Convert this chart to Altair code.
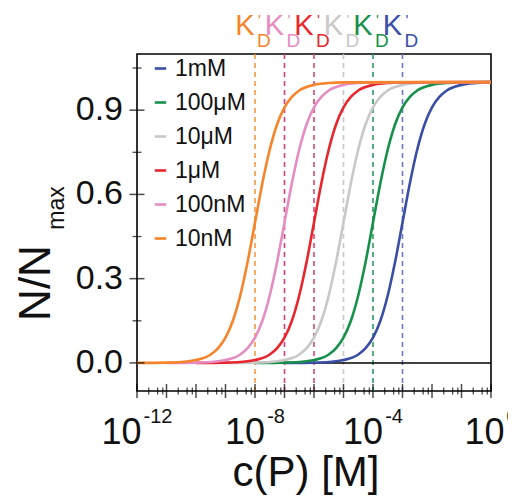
import altair as alt
import pandas as pd

FONT = "Liberation Sans"

# ---- data -------------------------------------------------------------
series = ["1mM", "100μM", "10μM", "1μM", "100nM", "10nM"]
kd_exp = [-3, -4, -5, -6, -7, -8]  # K_D' positions (log10 M)

curve_colors = ["#3a4ea6", "#17904b", "#c8c8c8", "#e8262d", "#e58dc2", "#f5842b"]
dash_colors = ["#6a78c4", "#2e9a5e", "#c8c8d0", "#d6476c", "#c8407e", "#f29a48"]

logc_1mM = [-7, -6, -5.5, -5, -4.5, -4.25, -4, -3.75, -3.5, -3.25, -3, -2.75, -2.5, -2.25, -2, -1.75, -1.5, -1, -0.5, 0]
n_1mM = [0.0, 0.001, 0.003, 0.01, 0.03, 0.053, 0.09, 0.15, 0.24, 0.36, 0.5, 0.64, 0.76, 0.85, 0.91, 0.947, 0.97, 0.99, 0.997, 1.0]

logc_100uM = [-8, -7, -6.5, -6, -5.5, -5.25, -5, -4.75, -4.5, -4.25, -4, -3.75, -3.5, -3.25, -3, -2.75, -2.5, -2, -1.5, -1, 0]
n_100uM = [0.0, 0.001, 0.003, 0.01, 0.03, 0.053, 0.09, 0.15, 0.24, 0.36, 0.5, 0.64, 0.76, 0.85, 0.91, 0.947, 0.97, 0.99, 0.997, 0.999, 1.0]

logc_10uM = [-9, -8, -7.5, -7, -6.5, -6.25, -6, -5.75, -5.5, -5.25, -5, -4.75, -4.5, -4.25, -4, -3.75, -3.5, -3, -2.5, -2, 0]
n_10uM = [0.0, 0.001, 0.003, 0.01, 0.03, 0.053, 0.09, 0.15, 0.24, 0.36, 0.5, 0.64, 0.76, 0.85, 0.91, 0.947, 0.97, 0.99, 0.997, 0.999, 1.0]

logc_1uM = [-10, -9, -8.5, -8, -7.5, -7.25, -7, -6.75, -6.5, -6.25, -6, -5.75, -5.5, -5.25, -5, -4.75, -4.5, -4, -3.5, -3, 0]
n_1uM = [0.0, 0.001, 0.003, 0.01, 0.03, 0.053, 0.09, 0.15, 0.24, 0.36, 0.5, 0.64, 0.76, 0.85, 0.91, 0.947, 0.97, 0.99, 0.997, 0.999, 1.0]

logc_100nM = [-11, -10, -9.5, -9, -8.5, -8.25, -8, -7.75, -7.5, -7.25, -7, -6.75, -6.5, -6.25, -6, -5.75, -5.5, -5, -4.5, -4, 0]
n_100nM = [0.0, 0.001, 0.003, 0.01, 0.03, 0.053, 0.09, 0.15, 0.24, 0.36, 0.5, 0.64, 0.76, 0.85, 0.91, 0.947, 0.97, 0.99, 0.997, 0.999, 1.0]

logc_10nM = [-12, -11, -10.5, -10, -9.5, -9.25, -9, -8.75, -8.5, -8.25, -8, -7.75, -7.5, -7.25, -7, -6.75, -6.5, -6, -5.5, -5, 0]
n_10nM = [0.0, 0.001, 0.003, 0.01, 0.03, 0.053, 0.09, 0.15, 0.24, 0.36, 0.5, 0.64, 0.76, 0.85, 0.91, 0.947, 0.97, 0.99, 0.997, 0.999, 1.0]

curves = [
    ("1mM", logc_1mM, n_1mM),
    ("100μM", logc_100uM, n_100uM),
    ("10μM", logc_10uM, n_10uM),
    ("1μM", logc_1uM, n_1uM),
    ("100nM", logc_100nM, n_100nM),
    ("10nM", logc_10nM, n_10nM),
]

x_major = [1e-12, 1e-11, 1e-10, 1e-9, 1e-8, 1e-7, 1e-6, 1e-5, 1e-4, 1e-3, 1e-2, 1e-1, 1e0]
x_minor = [m * 10.0 ** k for k in range(-12, 0) for m in (2.5, 5, 7.5)]
x_label_vals = [1e-12, 1e-8, 1e-4, 1e0]
x_label_exps = ["-12", "-8", "-4", "0"]

y_major = [0.0, 0.3, 0.6, 0.9]
y_minor = [0.15, 0.45, 0.75, 1.05]
y_labels = ["0.0", "0.3", "0.6", "0.9"]

# ---- frames -----------------------------------------------------------
rows = []
for name, lc, nv in curves:
    for a, b in zip(lc, nv):
        rows.append({"series": name, "c": 10.0 ** a, "n": b})
curve_df = pd.DataFrame(rows)
kd_df = pd.DataFrame({"series": series, "kd": [10.0 ** e for e in kd_exp]})

W, H = 354, 337
xs = alt.Scale(type="log", domain=[1e-12, 1], nice=False)
ys = alt.Scale(domain=[-0.1, 1.1], nice=False, zero=False)
cscale = alt.Scale(domain=series, range=curve_colors)
dscale = alt.Scale(domain=series, range=dash_colors)

layers = []

# dashed K_D' lines
layers.append(
    alt.Chart(kd_df).mark_rule(strokeDash=[5, 4], strokeWidth=1.6).encode(
        x=alt.X("kd:Q", scale=xs, axis=None),
        color=alt.Color("series:N", scale=dscale, legend=None),
    )
)

# zero line
layers.append(
    alt.Chart(pd.DataFrame({"z": [0.0]})).mark_rule(color="black", strokeWidth=1.5).encode(
        y=alt.Y("z:Q", scale=ys, axis=None)
    )
)

# curves
layers.append(
    alt.Chart(curve_df).mark_line(strokeWidth=2.6, interpolate="monotone").encode(
        x=alt.X("c:Q", scale=xs, axis=None),
        y=alt.Y("n:Q", scale=ys, axis=None),
        color=alt.Color(
            "series:N",
            scale=cscale,
            sort=series,
            legend=alt.Legend(
                orient="none", legendX=12, legendY=3, title=None,
                symbolType="stroke", symbolSize=130, symbolStrokeWidth=2.6,
                labelFont=FONT, labelFontSize=23, labelColor="#111",
                rowPadding=10, labelOffset=3, padding=0,
            ),
        ),
        detail="series:N",
    )
)

# x ticks (crossing)
layers.append(
    alt.Chart(pd.DataFrame({"t": x_major})).mark_tick(orient="vertical", color="black", size=14, thickness=1.5).encode(
        x=alt.X("t:Q", scale=xs, axis=None), y=alt.value(H)
    )
)
layers.append(
    alt.Chart(pd.DataFrame({"t": x_minor})).mark_tick(orient="vertical", color="black", size=7, thickness=1.3).encode(
        x=alt.X("t:Q", scale=xs, axis=None), y=alt.value(H)
    )
)
# y ticks (crossing)
layers.append(
    alt.Chart(pd.DataFrame({"t": y_major})).mark_tick(orient="horizontal", color="black", size=15, thickness=1.5).encode(
        y=alt.Y("t:Q", scale=ys, axis=None), x=alt.value(0)
    )
)
layers.append(
    alt.Chart(pd.DataFrame({"t": y_minor})).mark_tick(orient="horizontal", color="black", size=9, thickness=1.3).encode(
        y=alt.Y("t:Q", scale=ys, axis=None), x=alt.value(0)
    )
)

# y tick labels
layers.append(
    alt.Chart(pd.DataFrame({"t": y_major, "lab": y_labels})).mark_text(
        font=FONT, fontSize=34, align="right", baseline="middle", color="#111", dx=-14
    ).encode(y=alt.Y("t:Q", scale=ys, axis=None), x=alt.value(0), text="lab:N")
)

# x tick labels: "10" + superscript exponent, group centred on tick
def tw(s, fs):
    w = {"-": 0.333}
    return sum(w.get(ch, 0.556) for ch in s) * fs

MAIN_FS, SUP_FS, GAP = 36, 20, 2
for val, ex in zip(x_label_vals, x_label_exps):
    wm = tw("10", MAIN_FS)
    ws = tw(ex, SUP_FS)
    tot = wm + GAP + ws
    d = pd.DataFrame({"x": [val], "m": ["10"], "e": [ex]})
    layers.append(
        alt.Chart(d).mark_text(font=FONT, fontSize=MAIN_FS, align="right", baseline="alphabetic",
                               color="#111", dx=tot / 2 - ws - GAP).encode(
            x=alt.X("x:Q", scale=xs, axis=None), y=alt.value(H + 53), text="m:N")
    )
    layers.append(
        alt.Chart(d).mark_text(font=FONT, fontSize=SUP_FS, align="left", baseline="alphabetic",
                               color="#111", dx=tot / 2 - ws).encode(
            x=alt.X("x:Q", scale=xs, axis=None), y=alt.value(H + 32), text="e:N")
    )

# K_D' labels on top
kd_lab = kd_df.assign(k="K", d="D", p="'")
layers.append(
    alt.Chart(kd_lab).mark_text(font=FONT, fontSize=29, align="center", baseline="alphabetic", dx=-10).encode(
        x=alt.X("kd:Q", scale=xs, axis=None), y=alt.value(-19), text="k:N",
        color=alt.Color("series:N", scale=cscale, legend=None))
)
layers.append(
    alt.Chart(kd_lab).mark_text(font=FONT, fontSize=19, align="left", baseline="alphabetic", dx=2).encode(
        x=alt.X("kd:Q", scale=xs, axis=None), y=alt.value(-7), text="d:N",
        color=alt.Color("series:N", scale=cscale, legend=None))
)
layers.append(
    alt.Chart(kd_lab).mark_text(font=FONT, fontSize=15, align="left", baseline="alphabetic", dx=3).encode(
        x=alt.X("kd:Q", scale=xs, axis=None), y=alt.value(-29), text="p:N",
        color=alt.Color("series:N", scale=cscale, legend=None))
)

# axis titles
one = pd.DataFrame({"a": [0]})
layers.append(
    alt.Chart(one).mark_text(text="c(P) [M]", font=FONT, fontSize=42, align="center",
                             baseline="alphabetic", color="#111").encode(
        x=alt.value(169), y=alt.value(H + 95))
)
layers.append(
    alt.Chart(one).mark_text(text="N/N", font=FONT, fontSize=44, align="center",
                             baseline="alphabetic", angle=270, color="#111").encode(
        x=alt.value(-87), y=alt.value(229))
)
layers.append(
    alt.Chart(one).mark_text(text="max", font=FONT, fontSize=23, align="center",
                             baseline="alphabetic", angle=270, color="#111").encode(
        x=alt.value(-73), y=alt.value(154))
)

chart = (
    alt.layer(*layers)
    .resolve_scale(color="independent")
    .properties(
        width=W, height=H,
        padding={"left": 129, "top": 46, "right": 17, "bottom": 105},
        autosize=alt.AutoSizeParams(type="none"),
    )
    .configure_view(stroke="black", strokeWidth=1.6)
)

chart.save("out.html", embed_options={"renderer": "svg", "actions": False})
